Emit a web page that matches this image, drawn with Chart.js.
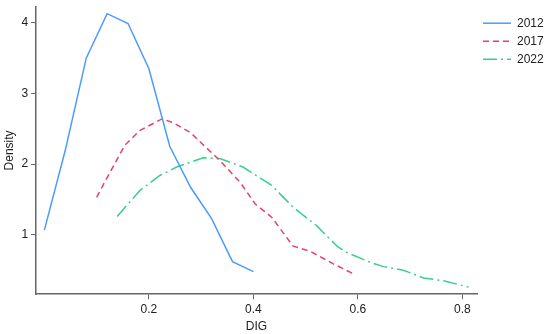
<!DOCTYPE html>
<html>
<head>
<meta charset="utf-8">
<script src="https://cdn.jsdelivr.net/npm/chart.js@4"></script>
<style>
  html, body { margin: 0; padding: 0; background: #fff; }
  #wrap { width: 550px; height: 334px; }
</style>
</head>
<body>
<div id="wrap"><canvas id="density-chart"></canvas></div>
<script>
// Densidades por ano
const years = ['2012', '2017', '2022'];

const dig2012 = [0.00, 0.04, 0.08, 0.12, 0.16, 0.20, 0.24, 0.28, 0.32, 0.36, 0.40];
const dens2012 = [1.07, 2.20, 3.50, 4.13, 3.99, 3.35, 2.25, 1.67, 1.23, 0.62, 0.48];

const dig2017 = [0.10, 0.112, 0.154, 0.183, 0.225, 0.246, 0.279, 0.336, 0.375, 0.403, 0.435, 0.476, 0.508, 0.553, 0.591];
const dens2017 = [1.53, 1.70, 2.27, 2.48, 2.64, 2.59, 2.45, 2.05, 1.74, 1.44, 1.25, 0.84, 0.77, 0.59, 0.45];

const dig2022 = [0.139, 0.183, 0.221, 0.253, 0.304, 0.336, 0.380, 0.435, 0.476, 0.521, 0.560, 0.579, 0.624, 0.649, 0.687, 0.726, 0.764, 0.812];
const dens2022 = [1.26, 1.63, 1.84, 1.96, 2.09, 2.08, 1.96, 1.70, 1.39, 1.13, 0.84, 0.75, 0.61, 0.55, 0.50, 0.39, 0.35, 0.26];

const xTicks = [0.2, 0.4, 0.6, 0.8];
const yTicks = [1, 2, 3, 4];

const toPoints = (xs, ys) => xs.map((x, i) => ({ x: x, y: ys[i] }));

const axisColor = '#666666';
const font = { family: 'Liberation Sans, Arial, sans-serif', size: 12 };

const ctx = document.getElementById('density-chart').getContext('2d');
new Chart(ctx, {
    type: 'line',
    data: {
        datasets: [{
            label: years[0],
            data: toPoints(dig2012, dens2012),
            borderColor: '#4b9bff',
            borderWidth: 1.5,
            pointRadius: 0
        }, {
            label: years[1],
            data: toPoints(dig2017, dens2017),
            borderColor: '#e5416f',
            borderDash: [6, 4],
            borderWidth: 1.5,
            pointRadius: 0
        }, {
            label: years[2],
            data: toPoints(dig2022, dens2022),
            borderColor: '#37d08f',
            borderDash: [14, 4, 2, 4],
            borderWidth: 1.5,
            pointRadius: 0
        }]
    },
    options: {
        responsive: true,
        maintainAspectRatio: false,
        animation: false,
        layout: { padding: { top: 0, right: 0, left: 2, bottom: 0 } },
        plugins: {
            tooltip: { enabled: false },
            legend: {
                position: 'right',
                align: 'start',
                maxWidth: 73,
                title: { display: true, text: '', font: { size: 1 }, padding: { top: 10, bottom: 0 } },
                labels: {
                    usePointStyle: true,
                    pointStyle: 'line',
                    pointStyleWidth: 28,
                    boxHeight: 10,
                    color: '#222',
                    font: font,
                    padding: 6,
                    generateLabels: (chart) => {
                        const items = Chart.defaults.plugins.legend.labels.generateLabels(chart);
                        items.forEach(item => {
                            const ds = chart.data.datasets[item.datasetIndex];
                            item.lineDash = ds.borderDash || [];
                            item.lineWidth = 1.5;
                            item.strokeStyle = ds.borderColor;
                            item.pointStyle = 'line';
                        });
                        return items;
                    }
                }
            }
        },
        scales: {
            x: {
                type: 'linear',
                min: -0.016,
                max: 0.828,
                afterBuildTicks: (axis) => { axis.ticks = xTicks.map(v => ({ value: v })); },
                ticks: { color: '#222', font: font, padding: 3, callback: (v) => v.toFixed(1) },
                grid: { drawOnChartArea: false, drawTicks: true, tickLength: 5, color: axisColor },
                border: { display: true, color: axisColor, width: 1.5 },
                title: { display: true, text: 'DIG', color: '#222', font: font, padding: { top: 0, bottom: 0 } }
            },
            y: {
                min: 0.16,
                max: 4.23,
                afterBuildTicks: (axis) => { axis.ticks = yTicks.map(v => ({ value: v })); },
                ticks: { color: '#222', font: { family: font.family, size: 12, lineHeight: 0.6 }, padding: 3 },
                grid: { drawOnChartArea: false, drawTicks: true, tickLength: 5, color: axisColor },
                border: { display: true, color: axisColor, width: 1.5 },
                title: { display: true, text: 'Density', color: '#222', font: font, padding: { top: 0, bottom: 2 } }
            }
        }
    }
});
</script>
</body>
</html>
